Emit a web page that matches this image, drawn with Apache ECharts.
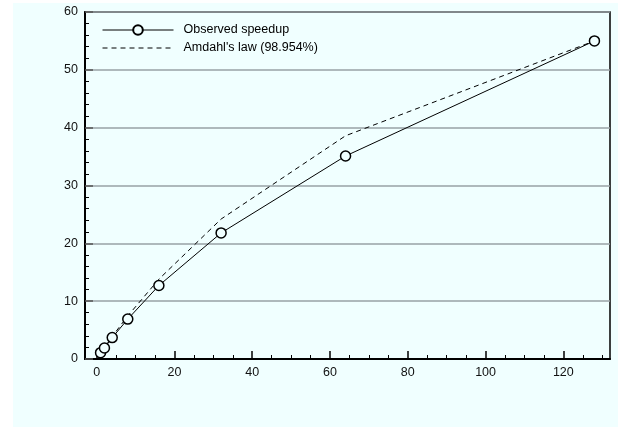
<!DOCTYPE html>
<html><head><meta charset="utf-8">
<script src="https://cdn.jsdelivr.net/npm/echarts@6/dist/echarts.min.js"></script>
<style>html,body{margin:0;padding:0;background:#fff}#c{width:618px;height:427px}</style>
</head><body><div id="c"></div>
<script>
const processors = [1, 2, 4, 8, 16, 32, 64, 128];
const observedSpeedup = [1.1, 1.9, 3.7, 6.9, 12.7, 21.8, 35.1, 55.0];
const amdahlSpeedup = [1.0, 2.0, 3.9, 7.45, 13.8, 24.2, 38.6, 55.0];
const xMajorTicks = [0, 20, 40, 60, 80, 100, 120];
const xMinorTicks = [5, 10, 15, 25, 30, 35, 45, 50, 55, 65, 70, 75, 85, 90, 95, 105, 110, 115, 125, 130];
const seriesNames = ['Observed speedup', "Amdahl's law (98.954%)"];

const bg = '#f0ffff';
const font = 'Liberation Sans, Arial, Helvetica, sans-serif';
const fs = 12.5;
const chart = echarts.init(document.getElementById('c'), null, {renderer: 'canvas'});
chart.setOption({
  backgroundColor: '#ffffff',
  animation: false,
  graphic: {elements: [{type: 'rect', z: -100, silent: true, shape: {x: 13, y: 3, width: 605, height: 424}, style: {fill: bg}}]},
  grid: {left: 85, right: 8, top: 12, bottom: 68, show: true, borderColor: '#000', borderWidth: 1.5, backgroundColor: 'transparent'},
  legend: {
    orient: 'vertical', left: 97, top: 18.5, itemWidth: 71, itemHeight: 12, itemGap: 5,
    textStyle: {fontFamily: font, fontSize: fs, color: '#000', padding: [0, 0, 0, 5]},
    lineStyle: {width: 1},
    data: seriesNames
  },
  xAxis: [{
    type: 'value', min: -3, max: 132,
    axisLine: {show: true, onZero: false, lineStyle: {color: '#000', width: 2}},
    axisTick: {show: true, inside: true, length: 8, customValues: xMajorTicks, lineStyle: {color: '#000', width: 1.5}},
    axisLabel: {customValues: xMajorTicks, margin: 7, fontFamily: font, fontSize: fs, color: '#111'},
    splitLine: {show: false}
  }, {
    type: 'value', min: -3, max: 132, position: 'bottom',
    axisLine: {show: false},
    axisTick: {show: true, inside: true, length: 4, customValues: xMinorTicks, lineStyle: {color: '#000', width: 1}},
    axisLabel: {show: false},
    splitLine: {show: false}
  }],
  yAxis: {
    type: 'value', min: 0, max: 60, interval: 10,
    axisLine: {show: true, onZero: false, lineStyle: {color: '#000', width: 2}},
    axisTick: {show: true, inside: true, length: 8, lineStyle: {color: '#555', width: 1.5}},
    minorTick: {show: true, splitNumber: 5, length: 4, lineStyle: {color: '#000', width: 1}},
    axisLabel: {margin: 7, fontFamily: font, fontSize: fs, color: '#111'},
    splitLine: {show: true, lineStyle: {color: '#98a2a6', width: 1.5}}
  },
  series: [{
    name: seriesNames[0], type: 'line', xAxisIndex: 0, z: 3,
    data: processors.map((p, i) => [p, observedSpeedup[i]]),
    symbol: 'circle', symbolSize: 10,
    itemStyle: {color: bg, borderColor: '#000', borderWidth: 1.5},
    lineStyle: {color: '#000', width: 1}
  }, {
    name: seriesNames[1], type: 'line', xAxisIndex: 0, z: 2,
    data: processors.map((p, i) => [p, amdahlSpeedup[i]]),
    symbol: 'none',
    itemStyle: {color: 'rgba(0,0,0,0)', borderWidth: 0},
    lineStyle: {color: '#000', width: 1, type: [5, 4]}
  }]
});
</script></body></html>
